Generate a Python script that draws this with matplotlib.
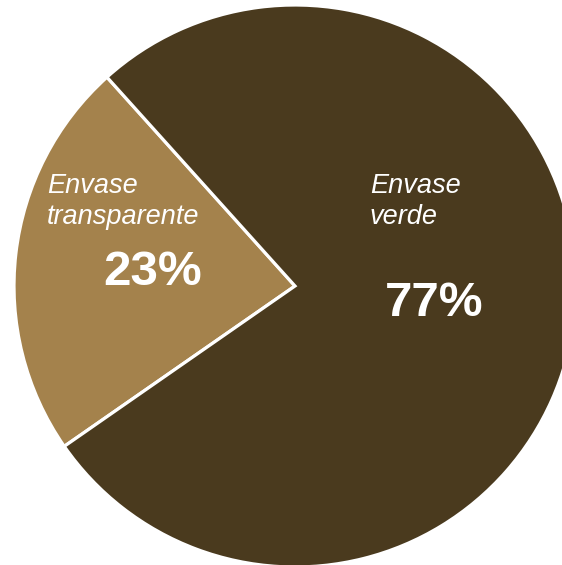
import matplotlib
matplotlib.use("Agg")
import matplotlib.pyplot as plt

# Data
categories = ["Envase\ntransparente", "Envase\nverde"]
values = [23, 77]
pct_labels = ["23%", "77%"]
colors = ["#a4824c", "#4a3a1e"]

W, H = 562, 565
fig = plt.figure(figsize=(W / 100, H / 100), dpi=100)
ax = fig.add_axes([0, 0, 1, 1])

cx, cy, R = 295, H - 286, 281
ax.pie(values, colors=colors, startangle=132, counterclock=True,
       center=(cx, cy), radius=R, frame=True,
       wedgeprops=dict(edgecolor="white", linewidth=2.3))
ax.set_xlim(0, W)
ax.set_ylim(0, H)
ax.set_aspect("equal")
ax.axis("off")

font = "Liberation Sans"
# label positions (pixel coords: left x, first baseline y)
label_pos = [(47, 193), (370, 193)]
pct_pos = [(103, 285), (385, 316)]
line_gap = 31.5

for cat, (lx, ly) in zip(categories, label_pos):
    for i, line in enumerate(cat.split("\n")):
        ax.text(lx, H - (ly + i * line_gap), line, color="white",
                fontsize=19.5, fontstyle="italic", family=font,
                ha="left", va="baseline")

for p, (px, py) in zip(pct_labels, pct_pos):
    ax.text(px, H - py, p, color="white", fontsize=35.5, fontweight="bold",
            family=font, ha="left", va="baseline")

fig.savefig("out.png", dpi=100)
